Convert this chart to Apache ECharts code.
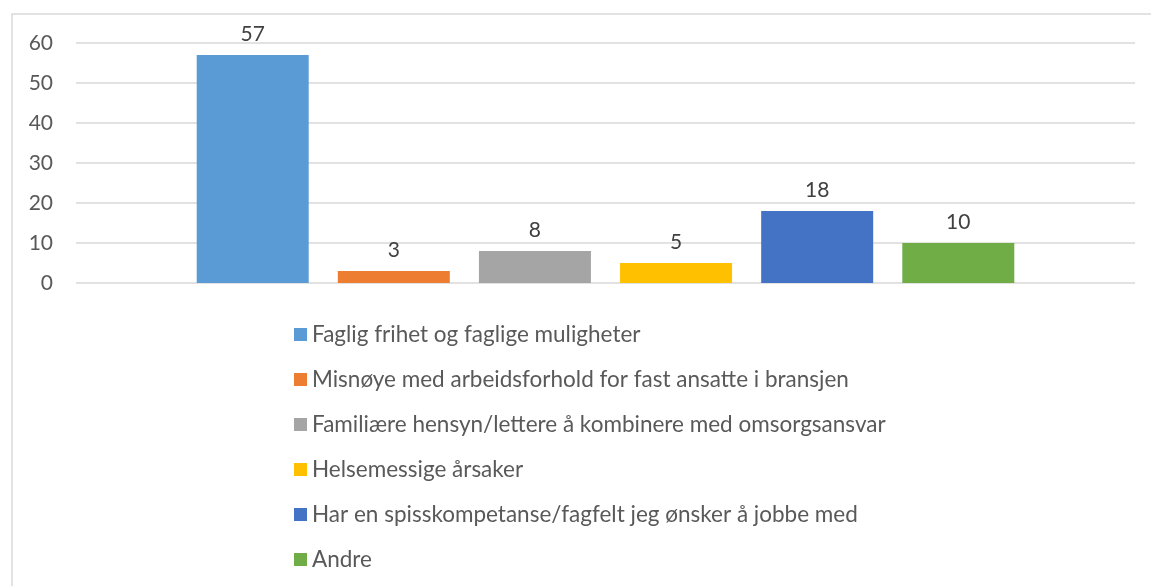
<!DOCTYPE html>
<html><head><meta charset="utf-8">
<script src="https://cdn.jsdelivr.net/npm/echarts@6/dist/echarts.min.js"></script>
<style>html,body{margin:0;padding:0;background:#fff}#c{width:1151px;height:586px}</style>
</head><body><div id="c"></div>
<script>
const categories = [''];
const seriesNames = [
  'Faglig frihet og faglige muligheter',
  'Misnøye med arbeidsforhold for fast ansatte i bransjen',
  'Familiære hensyn/lettere å kombinere med omsorgsansvar',
  'Helsemessige årsaker',
  'Har en spisskompetanse/fagfelt jeg ønsker å jobbe med',
  'Andre'
];
const seriesValues = [57, 3, 8, 5, 18, 10];
const seriesColors = ['#5B9BD5', '#ED7D31', '#A5A5A5', '#FFC000', '#4472C4', '#70AD47'];
const yTicks = [0, 10, 20, 30, 40, 50, 60];

const FONT = 'Lato';
const chart = echarts.init(document.getElementById('c'), null, {renderer: 'canvas'});
chart.setOption({
  animation: false,
  backgroundColor: '#fff',
  textStyle: {fontFamily: FONT},
  graphic: [{
    type: 'rect', shape: {x: 12, y: 14, width: 1160, height: 600},
    style: {fill: 'none', stroke: '#d9d9d9', lineWidth: 1.5}, silent: true
  }],
  grid: {left: 76, right: 16, top: 43, bottom: 303, containLabel: false},
  xAxis: {
    type: 'category', data: categories,
    axisLine: {show: false}, axisTick: {show: false}, axisLabel: {show: false}
  },
  yAxis: {
    type: 'value', min: yTicks[0], max: yTicks[yTicks.length - 1], interval: 10,
    axisLine: {show: false}, axisTick: {show: false},
    axisLabel: {color: '#595959', fontSize: 21, fontFamily: FONT, margin: 23},
    splitLine: {lineStyle: {color: '#d9d9d9', width: 1.5}}
  },
  legend: {
    orient: 'vertical', left: 294, top: 323, height: 400, padding: 0,
    itemWidth: 13, itemHeight: 13, itemGap: 22,
    icon: 'rect',
    textStyle: {color: '#595959', fontSize: 22.5, fontFamily: FONT},
    data: seriesNames
  },
  series: seriesNames.map((n, i) => ({
    name: n, type: 'bar', data: [seriesValues[i]],
    barWidth: 112, barGap: '26%',
    itemStyle: {color: seriesColors[i]},
    label: {show: true, position: 'top', distance: 10, color: '#404040', fontSize: 21, fontFamily: FONT}
  }))
});
</script></body></html>
